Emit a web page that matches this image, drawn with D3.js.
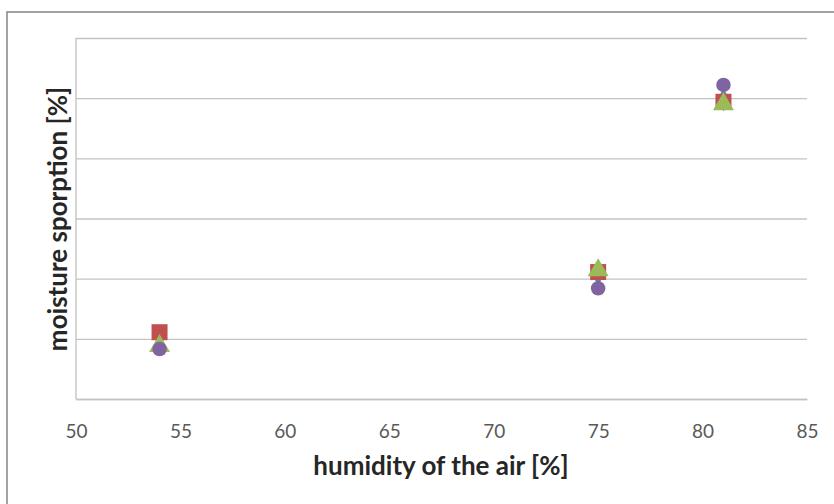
<!DOCTYPE html>
<html>
<head>
<meta charset="utf-8">
<script src="https://cdn.jsdelivr.net/npm/d3@7"></script>
<style>
  html, body { margin: 0; padding: 0; background: #fff; }
  svg { display: block; }
</style>
</head>
<body>
<svg id="chart" width="834" height="504"></svg>
<script>
// Air humidity levels tested [%]
const humidity = [54, 75, 81];

// Moisture sorption per sample series (arbitrary units, axis unlabeled)
const seriesDiamond = [1.05, 2.08, 4.97];
const seriesSquare  = [1.11, 2.11, 4.94];
const seriesTriangle = [0.88, 2.14, 4.90];
const seriesCircle  = [0.83, 1.84, 5.22];

const xTicks = [50, 55, 60, 65, 70, 75, 80, 85];
const yTicks = [0, 1, 2, 3, 4, 5, 6];

const xTitle = "humidity of the air [%]";
const yTitle = "moisture sporption [%]";

const svg = d3.select("#chart");
const margin = { left: 76, right: 834 - 807, top: 38, bottom: 504 - 399 };
const W = 834, H = 504;
const font = "Lato, 'Open Sans', sans-serif";

// outer chart frame (right and bottom edges fall outside the view)
svg.append("rect")
  .attr("x", 7).attr("y", 12)
  .attr("width", 840).attr("height", 510)
  .attr("fill", "#fff")
  .attr("stroke", "#8c8c8c")
  .attr("stroke-width", 1.6);

const x = d3.scaleLinear().domain([50, 85]).range([margin.left, W - margin.right]);
const y = d3.scaleLinear().domain([0, 6]).range([H - margin.bottom, margin.top]);

// horizontal gridlines
svg.append("g")
  .attr("transform", `translate(${margin.left},0)`)
  .call(d3.axisLeft(y).tickValues(yTicks).tickSize(-(x.range()[1] - x.range()[0])).tickFormat(""))
  .call(g => g.select(".domain").remove())
  .call(g => g.selectAll(".tick line").attr("stroke", "#c3c3c3").attr("stroke-width", 1.4));

// vertical axis line
svg.append("line")
  .attr("x1", margin.left).attr("x2", margin.left)
  .attr("y1", y(6)).attr("y2", y(0))
  .attr("stroke", "#c3c3c3").attr("stroke-width", 1.4);

// x axis
const xAxis = svg.append("g")
  .attr("transform", `translate(0,${y(0)})`)
  .call(d3.axisBottom(x).tickValues(xTicks).tickSize(0).tickFormat(d3.format("d")));
xAxis.select(".domain").attr("stroke", "#c3c3c3").attr("stroke-width", 1.4);
xAxis.selectAll(".tick text")
  .attr("y", 39)
  .attr("dy", null)
  .attr("font-family", font)
  .attr("font-size", 19)
  .attr("fill", "#595959");

// axis titles
svg.append("text")
  .attr("x", 441).attr("y", 475)
  .attr("text-anchor", "middle")
  .attr("font-family", font)
  .attr("font-weight", "bold")
  .attr("font-size", 26)
  .attr("fill", "#262626")
  .text(xTitle);

svg.append("text")
  .attr("transform", "translate(67,219) rotate(-90)")
  .attr("text-anchor", "middle")
  .attr("font-family", font)
  .attr("font-weight", "bold")
  .attr("font-size", 26)
  .attr("fill", "#262626")
  .text(yTitle);

// data series, drawn in order so later series sit on top
const series = [
  { values: seriesDiamond, symbol: d3.symbolDiamond, size: 150, color: "#4F81BD" },
  { values: seriesSquare, symbol: d3.symbolSquare, size: 256, color: "#C0504D" },
  { values: seriesTriangle, symbol: d3.symbolTriangle, size: 190, color: "#9BBB59" },
  { values: seriesCircle, symbol: d3.symbolCircle, size: 165, color: "#8064A2" }
];

series.forEach(s => {
  svg.append("g")
    .selectAll("path")
    .data(humidity.map((h, i) => ({ h, v: s.values[i] })))
    .join("path")
    .attr("transform", d => `translate(${x(d.h)},${y(d.v)})`)
    .attr("d", d3.symbol().type(s.symbol).size(s.size))
    .attr("fill", s.color);
});
</script>
</body>
</html>
